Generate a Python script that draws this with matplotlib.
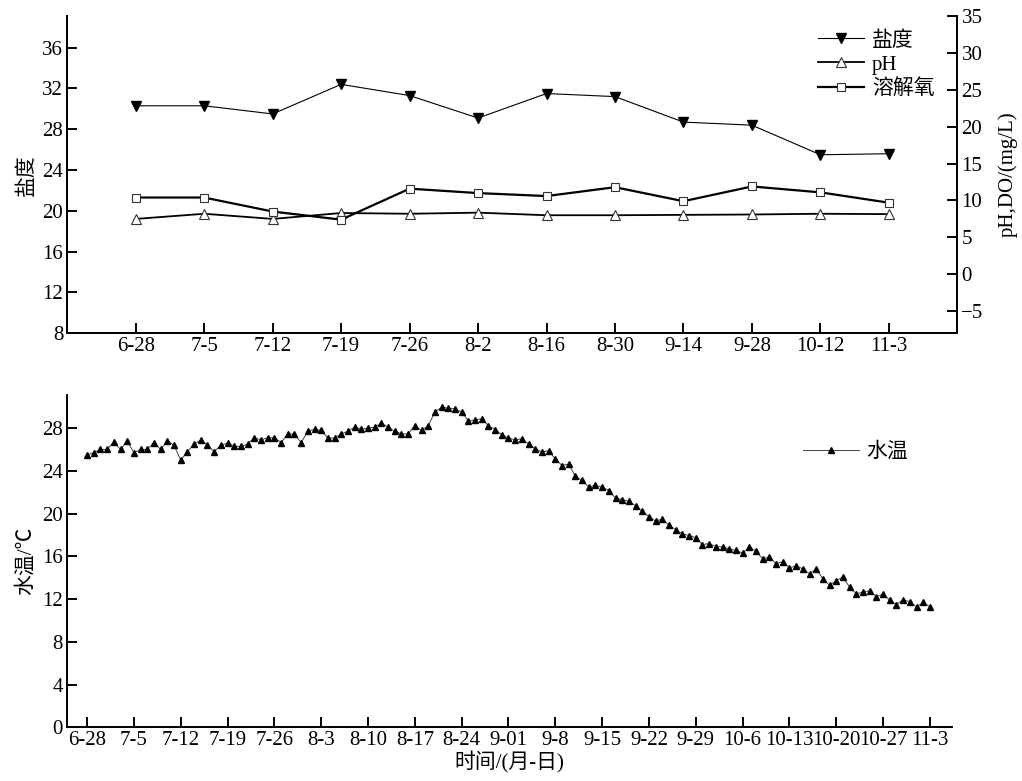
import matplotlib
matplotlib.use("Agg")
import matplotlib.pyplot as plt
from matplotlib.lines import Line2D

plt.rcParams['font.family'] = ['Liberation Serif', 'Noto Sans CJK SC', 'DejaVu Sans']
plt.rcParams['axes.unicode_minus'] = True

# ---------------- data ----------------
top_dates = ['6-28', '7-5', '7-12', '7-19', '7-26', '8-2', '8-16', '8-30',
             '9-14', '9-28', '10-12', '11-3']
salinity = [30.3, 30.3, 29.5, 32.4, 31.3, 29.1, 31.5, 31.2, 28.7, 28.4, 25.5, 25.6]
ph = [7.5, 8.2, 7.5, 8.3, 8.2, 8.35, 8.0, 8.0, 8.05, 8.1, 8.2, 8.15]
do = [10.4, 10.4, 8.5, 7.4, 11.6, 11.0, 10.6, 11.8, 9.9, 11.9, 11.1, 9.7]

water_temp = [
    25.5, 25.7, 26.0, 26.0, 26.7, 26.0, 26.8, 25.7, 26.0, 26.0,
    26.65, 26.0, 26.8, 26.4, 25.0, 25.8, 26.5, 26.9, 26.4, 25.8,
    26.4, 26.6, 26.3, 26.3, 26.5, 27.1, 26.9, 27.1, 27.1, 26.65,
    27.45, 27.45, 26.65, 27.7, 27.9, 27.8, 27.07, 27.07, 27.47, 27.7,
    28.1, 27.9, 28.0, 28.1, 28.47, 28.1, 27.7, 27.47, 27.47, 28.24,
    27.78, 28.24, 29.5, 29.96, 29.87, 29.8, 29.5, 28.68, 28.78, 28.87,
    28.24, 27.87, 27.37, 27.07, 26.9, 27.0, 26.5, 26.07, 25.76, 25.9,
    25.1, 24.5, 24.64, 23.48, 23.1, 22.49, 22.64, 22.49, 22.14, 21.46,
    21.3, 21.15, 20.74, 20.2, 19.7, 19.3, 19.5, 18.9, 18.5, 18.1,
    17.95, 17.75, 17.1, 17.2, 16.9, 16.9, 16.7, 16.56, 16.3, 16.86,
    16.5, 15.76, 15.94, 15.32, 15.5, 14.9, 15.13, 14.82, 14.36, 14.82,
    13.89, 13.3, 13.73, 14.07, 13.1, 12.5, 12.64, 12.8, 12.2, 12.5,
    11.89, 11.49, 11.95, 11.74, 11.27, 11.7, 11.27]

bottom_ticklabels = ['6-28', '7-5', '7-12', '7-19', '7-26', '8-3', '8-10', '8-17',
                     '8-24', '9-01', '9-8', '9-15', '9-22', '9-29', '10-6',
                     '10-13', '10-20', '10-27', '11-3']

FS = 15
W, H = 1022, 781
fig = plt.figure(figsize=(W / 100, H / 100), dpi=100)


def px_axes(l, t, r, b):
    return fig.add_axes([l / W, (H - b) / H, (r - l) / W, (b - t) / H])


def style_ticks(ax, **kw):
    ax.tick_params(direction='in', length=7, width=1.4, labelsize=FS, **kw)


# ---------------- top chart ----------------
ax1 = px_axes(67.3, 16, 957.3, 333.3)
ax2 = ax1.twinx()
xt = list(range(len(top_dates)))

l1, = ax1.plot(xt, salinity, color='black', lw=0.8, marker='v', ms=7.5,
               mfc='black', mec='black', label='盐度')
l2, = ax2.plot(xt, ph, color='black', lw=1.3, marker='^', ms=7.2,
               mfc='white', mec='#333333', mew=0.8, label='pH')
l3, = ax2.plot(xt, do, color='black', lw=1.6, marker='s', ms=5.6,
               mfc='white', mec='#333333', mew=0.8, label='溶解氧')

ax1.set_xlim(-1, 12)
ax1.set_ylim(8, 39.1)
ax1.set_yticks([8, 12, 16, 20, 24, 28, 32, 36])
ax2.set_ylim(-8, 35)
ax2.set_yticks([-5, 0, 5, 10, 15, 20, 25, 30, 35])
ax1.set_xticks(xt)
ax1.set_xticklabels(top_dates)
for a in (ax1, ax2):
    a.spines['top'].set_visible(False)
    for s in a.spines.values():
        s.set_linewidth(1.4)
style_ticks(ax1, pad=3)
style_ticks(ax2, pad=3)
ax1.set_ylabel('盐度', fontsize=FS, labelpad=4)
ax2.set_ylabel('pH,DO/(mg/L)', fontsize=FS, labelpad=10)

ax1.legend(handles=[l1, l2, l3], loc='upper left',
           bbox_to_anchor=(818 / W, 1 - 31 / H), bbox_transform=fig.transFigure,
           frameon=False, fontsize=FS, handlelength=2.2, handletextpad=0.4,
           labelspacing=0.22, borderpad=0, borderaxespad=0)

# ---------------- bottom chart ----------------
ax3 = px_axes(67, 395, 952, 727.3)
xd = list(range(len(water_temp)))
l4, = ax3.plot(xd, water_temp, color='#444444', lw=0.7, marker='^', ms=5.0,
               mfc='black', mec='black', label='水温')
ax3.set_xlim(-3, 129.3)
ax3.set_ylim(0, 31.1)
ax3.set_yticks([0, 4, 8, 12, 16, 20, 24, 28])
ax3.set_xticks([7 * i for i in range(len(bottom_ticklabels))])
ax3.set_xticklabels(bottom_ticklabels)
ax3.spines['top'].set_visible(False)
ax3.spines['right'].set_visible(False)
for s in ax3.spines.values():
    s.set_linewidth(1.4)
style_ticks(ax3, pad=3)
ax3.set_ylabel('水温/℃', fontsize=FS, labelpad=4)
ax3.set_xlabel('时间/(月-日)', fontsize=FS, labelpad=1)
ax3.legend(handles=[l4], loc='center left',
           bbox_to_anchor=(803 / W, 1 - 452 / H), bbox_transform=fig.transFigure,
           frameon=False, fontsize=FS, handlelength=2.7, handletextpad=0.35,
           borderpad=0, borderaxespad=0)

fig.savefig('out.png', dpi=100)
